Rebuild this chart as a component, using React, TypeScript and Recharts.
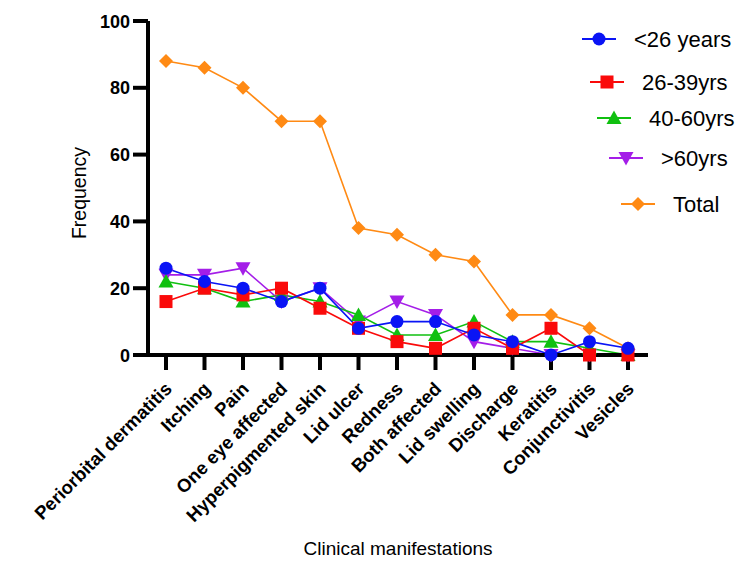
import React from 'react';
import { LineChart, Line, XAxis, YAxis, Customized } from 'recharts';

const categories = [
  'Periorbital dermatitis',
  'Itching',
  'Pain',
  'One eye affected',
  'Hyperpigmented skin',
  'Lid ulcer',
  'Redness',
  'Both affected',
  'Lid swelling',
  'Discharge',
  'Keratitis',
  'Conjunctivitis',
  'Vesicles',
];

const under26 = [26, 22, 20, 16, 20, 8, 10, 10, 6, 4, 0, 4, 2];
const age26to39 = [16, 20, 18, 20, 14, 8, 4, 2, 8, 2, 8, 0, 0];
const age40to60 = [22, 20, 16, 18, 16, 12, 6, 6, 10, 4, 4, 2, 0];
const over60 = [24, 24, 26, 16, 20, 10, 16, 12, 4, 2, 0, 0, 0];
const total = [88, 86, 80, 70, 70, 38, 36, 30, 28, 12, 12, 8, 2];

const yTicks = [0, 20, 40, 60, 80, 100];

const data = categories.map((name, i) => ({
  name,
  under26: under26[i],
  age26to39: age26to39[i],
  age40to60: age40to60[i],
  over60: over60[i],
  total: total[i],
}));

const FONT = '"Liberation Sans", Arial, Helvetica, sans-serif';

type ShapeKind = 'circle' | 'square' | 'triangle' | 'triangleDown' | 'diamond';

const series: { key: string; label: string; color: string; shape: ShapeKind }[] = [
  { key: 'under26', label: '<26 years', color: '#0A14F5', shape: 'circle' },
  { key: 'age26to39', label: '26-39yrs', color: '#FA0A0A', shape: 'square' },
  { key: 'age40to60', label: '40-60yrs', color: '#10C010', shape: 'triangle' },
  { key: 'over60', label: '>60yrs', color: '#A41EE8', shape: 'triangleDown' },
  { key: 'total', label: 'Total', color: '#FF8A14', shape: 'diamond' },
];

function Marker({ cx, cy, shape, color }: { cx: number; cy: number; shape: ShapeKind; color: string }) {
  switch (shape) {
    case 'circle':
      return <circle cx={cx} cy={cy} r={6.5} fill={color} />;
    case 'square':
      return <rect x={cx - 6.5} y={cy - 6.5} width={13} height={13} fill={color} />;
    case 'triangle':
      return <polygon points={`${cx},${cy - 7.5} ${cx + 7.5},${cy + 6} ${cx - 7.5},${cy + 6}`} fill={color} />;
    case 'triangleDown':
      return <polygon points={`${cx},${cy + 7.5} ${cx + 7.5},${cy - 6} ${cx - 7.5},${cy - 6}`} fill={color} />;
    case 'diamond':
      return <polygon points={`${cx},${cy - 7} ${cx + 7},${cy} ${cx},${cy + 7} ${cx - 7},${cy}`} fill={color} />;
  }
  return null;
}

const makeDot = (shape: ShapeKind, color: string) => (props: any) => {
  const { cx, cy, index } = props;
  if (cx == null || cy == null) return <g key={`${shape}-${index}`} />;
  return (
    <g key={`${shape}-${index}`}>
      <Marker cx={cx} cy={cy} shape={shape} color={color} />
    </g>
  );
};

const XTick = (props: any) => {
  const { x, y, payload } = props;
  const ax = x + 7;
  const ay = y + 18;
  return (
    <text
      x={ax}
      y={ay}
      transform={`rotate(-45, ${ax}, ${ay})`}
      textAnchor="end"
      fontFamily={FONT}
      fontWeight="bold"
      fontSize={18.5}
      fill="#000"
    >
      {payload.value}
    </text>
  );
};

const YTick = (props: any) => {
  const { x, y, payload } = props;
  return (
    <text
      x={x - 1}
      y={y}
      dy={6.5}
      textAnchor="end"
      fontFamily={FONT}
      fontWeight="bold"
      fontSize={18}
      fill="#000"
    >
      {payload.value}
    </text>
  );
};

const XTitle = (props: any) => {
  const { viewBox } = props;
  const cx = viewBox.x + viewBox.width / 2;
  const by = viewBox.y + viewBox.height - 14;
  return (
    <text x={cx} y={by} textAnchor="middle" fontFamily={FONT} fontSize={19} fill="#000">
      Clinical manifestations
    </text>
  );
};

const YTitle = (props: any) => {
  const { viewBox } = props;
  const bx = viewBox.x + 86;
  const cy = viewBox.y + viewBox.height / 2 + 5;
  return (
    <text
      x={bx}
      y={cy}
      transform={`rotate(-90, ${bx}, ${cy})`}
      textAnchor="middle"
      fontFamily={FONT}
      fontSize={19.5}
      fill="#000"
    >
      Frequency
    </text>
  );
};

// Legend rows sit on a slight diagonal, each one shifted right of the one above
const legendRows = [
  { y: 39, x: 582 },
  { y: 82, x: 590 },
  { y: 118, x: 597 },
  { y: 158, x: 609 },
  { y: 204, x: 621 },
];

const ChartLegend = () => (
  <g>
    {series.map((s, i) => {
      const row = legendRows[i];
      return (
        <g key={s.key}>
          <line x1={row.x} y1={row.y} x2={row.x + 34} y2={row.y} stroke={s.color} strokeWidth={2} />
          <Marker cx={row.x + 17} cy={row.y} shape={s.shape} color={s.color} />
          <text x={row.x + 52} y={row.y + 8} fontFamily={FONT} fontSize={22} fill="#000">
            {s.label}
          </text>
        </g>
      );
    })}
  </g>
);

export default function App() {
  const drawOrder = ['total', 'over60', 'age40to60', 'age26to39', 'under26'];
  return (
    <div style={{ position: 'absolute', left: 0, top: 0, width: 750, height: 569, background: '#fff' }}>
      <LineChart
        width={750}
        height={569}
        data={data}
        margin={{ top: 21, right: 102, left: 0, bottom: 0 }}
      >
        <XAxis
          dataKey="name"
          interval={0}
          height={214}
          padding={{ left: 18, right: 20 }}
          axisLine={{ stroke: '#000', strokeWidth: 4 }}
          tickLine={{ stroke: '#000', strokeWidth: 4 }}
          tickSize={15}
          tick={<XTick />}
          label={<XTitle />}
        />
        <YAxis
          width={148}
          domain={[0, 100]}
          ticks={yTicks}
          interval={0}
          axisLine={{ stroke: '#000', strokeWidth: 4 }}
          tickLine={{ stroke: '#000', strokeWidth: 4 }}
          tickSize={15}
          tick={<YTick />}
          label={<YTitle />}
        />
        {drawOrder.map((k) => {
          const s = series.find((d) => d.key === k)!;
          return (
            <Line
              key={s.key}
              type="linear"
              dataKey={s.key}
              name={s.label}
              stroke={s.color}
              strokeWidth={1.6}
              dot={makeDot(s.shape, s.color)}
              activeDot={false}
              isAnimationActive={false}
            />
          );
        })}
        <Customized component={ChartLegend} />
      </LineChart>
    </div>
  );
}
